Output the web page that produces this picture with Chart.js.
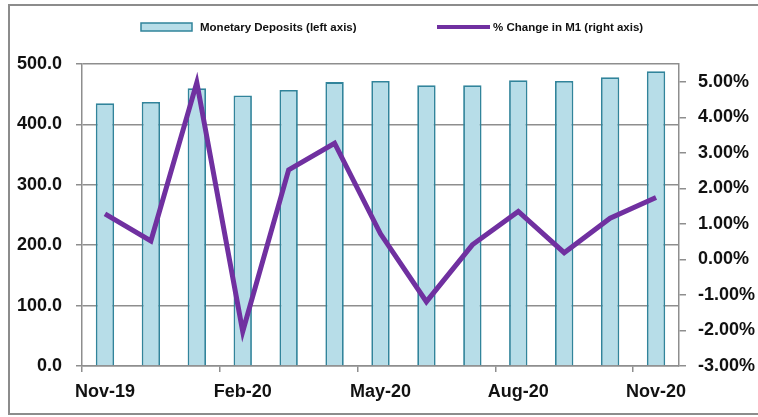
<!DOCTYPE html>
<html>
<head>
    <meta charset="UTF-8">
    <title>Monetary Deposits and M1</title>
    <script src="https://cdn.jsdelivr.net/npm/chart.js@4.4.1/dist/chart.umd.min.js"></script>
    <style>
        html, body { margin: 0; padding: 0; background: #fff; }
        #wrap { width: 758px; height: 417px; }
    </style>
</head>
<body>
    <div id="wrap"><canvas id="m1Chart" width="758" height="417"></canvas></div>

    <script>
        // data
        const months = ['Nov-19', 'Dec-19', 'Jan-20', 'Feb-20', 'Mar-20', 'Apr-20', 'May-20',
            'Jun-20', 'Jul-20', 'Aug-20', 'Sep-20', 'Oct-20', 'Nov-20'];
        const deposits = [435, 437, 460, 448, 457, 470, 472, 465, 465, 473, 472, 478, 488];
        const m1Change = [1.28, 0.52, 4.98, -2.03, 2.52, 3.27, 0.72, -1.19, 0.41, 1.35, 0.19, 1.16, 1.74];
        const leftTicks = [0, 100, 200, 300, 400, 500];
        const rightTicks = [-3, -2, -1, 0, 1, 2, 3, 4, 5];

        const gridGray = '#8e8e8e';
        const tickFont = { family: 'Liberation Sans, Arial, sans-serif', size: 18, weight: 'bold' };

        // legend drawn by hand so the two entries sit where the original has them
        const legendPlugin = {
            id: 'sideLegend',
            afterDraw(chart) {
                const ctx = chart.ctx;
                const ds = chart.data.datasets;
                ctx.save();
                ctx.font = 'bold 11.5px "Liberation Sans", Arial, sans-serif';
                ctx.textBaseline = 'middle';
                // bars
                ctx.fillStyle = ds[0].backgroundColor;
                ctx.fillRect(141, 23, 51, 8);
                ctx.strokeStyle = ds[0].borderColor;
                ctx.lineWidth = 1.5;
                ctx.strokeRect(141, 23, 51, 8);
                ctx.fillStyle = '#111';
                ctx.fillText(ds[0].label, 200, 27.5);
                // line
                ctx.strokeStyle = ds[1].borderColor;
                ctx.lineWidth = 4;
                ctx.beginPath();
                ctx.moveTo(437, 27);
                ctx.lineTo(490, 27);
                ctx.stroke();
                ctx.fillText(ds[1].label, 493, 27.5);
                ctx.restore();
            },
            beforeDraw(chart) {
                const ctx = chart.ctx;
                ctx.save();
                ctx.strokeStyle = '#8c8c8c';
                ctx.lineWidth = 2;
                ctx.strokeRect(9, 5, 800, 409);
                ctx.restore();
            }
        };

        new Chart(document.getElementById('m1Chart'), {
            data: {
                labels: months,
                datasets: [{
                    type: 'bar',
                    label: 'Monetary Deposits (left axis)',
                    data: deposits,
                    yAxisID: 'y',
                    backgroundColor: '#b7dde8',
                    borderColor: '#31849b',
                    borderWidth: 1.8,
                    borderSkipped: 'bottom',
                    barPercentage: 0.4,
                    categoryPercentage: 1,
                    order: 1
                }, {
                    type: 'line',
                    label: '% Change in M1 (right axis)',
                    data: m1Change,
                    yAxisID: 'y2',
                    borderColor: '#7030a0',
                    backgroundColor: '#7030a0',
                    borderWidth: 5,
                    pointRadius: 0,
                    tension: 0,
                    order: 0
                }]
            },
            options: {
                responsive: false,
                animation: false,
                layout: { padding: { top: 64, left: 0, right: 0, bottom: 0 } },
                plugins: {
                    legend: { display: false },
                    tooltip: { enabled: false }
                },
                scales: {
                    x: {
                        offset: true,
                        grid: {
                            offset: true,
                            drawOnChartArea: false,
                            tickLength: 6,
                            lineWidth: 1.5,
                            color: (c) => (c.index % 3 === 0 && c.index < months.length) ? gridGray : 'rgba(0,0,0,0)'
                        },
                        border: { color: gridGray, width: 1.5 },
                        ticks: {
                            autoSkip: false,
                            maxRotation: 0,
                            padding: 9,
                            color: '#111',
                            font: tickFont,
                            callback: (v, i) => i % 3 === 0 ? months[i] : ''
                        },
                        afterFit: (s) => { s.height = 417 - 366; }
                    },
                    y: {
                        position: 'left',
                        min: 0,
                        max: 500,
                        afterBuildTicks: (s) => { s.ticks = leftTicks.map(v => ({ value: v })); },
                        grid: { color: gridGray, lineWidth: 1.5, tickLength: 6 },
                        border: { color: gridGray, width: 1.5 },
                        ticks: {
                            padding: 14,
                            color: '#111',
                            font: tickFont,
                            callback: (v) => v.toFixed(1)
                        },
                        afterFit: (s) => { s.width = 82; }
                    },
                    y2: {
                        position: 'right',
                        min: -3,
                        max: 5.5,
                        afterBuildTicks: (s) => { s.ticks = rightTicks.map(v => ({ value: v })); },
                        grid: { drawOnChartArea: false, color: gridGray, lineWidth: 1.5, tickLength: 7 },
                        border: { color: gridGray, width: 1.5 },
                        ticks: {
                            padding: 12,
                            color: '#111',
                            font: tickFont,
                            callback: (v) => v.toFixed(2) + '%'
                        },
                        afterFit: (s) => { s.width = 758 - 679; }
                    }
                }
            },
            plugins: [legendPlugin]
        });
    </script>
</body>
</html>
